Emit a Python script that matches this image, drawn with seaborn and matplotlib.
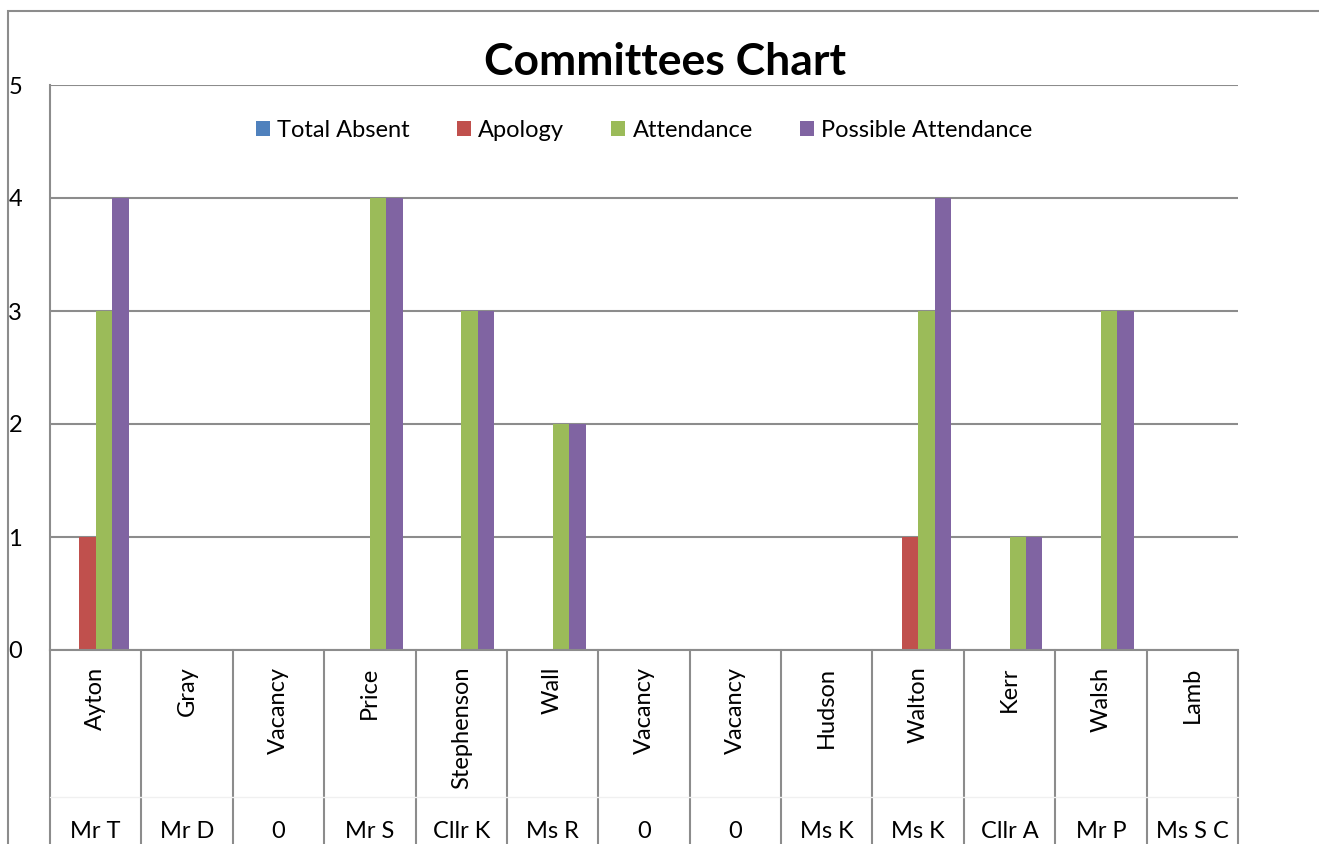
import matplotlib
matplotlib.use("Agg")
import matplotlib.pyplot as plt
import matplotlib.transforms as mtransforms
from matplotlib.patches import Rectangle
import seaborn as sns
import pandas as pd

# data
surnames = ["Ayton", "Gray", "Vacancy", "Price", "Stephenson", "Wall", "Vacancy",
            "Vacancy", "Hudson", "Walton", "Kerr", "Walsh", "Lamb"]
titles = ["Mr T", "Mr D", "0", "Mr S", "Cllr K", "Ms R", "0", "0", "Ms K", "Ms K",
          "Cllr A", "Mr P", "Ms S C"]
total_absent = [0, 0, 0, 0, 0, 0, 0, 0, 0, 0, 0, 0, 0]
apology = [1, 0, 0, 0, 0, 0, 0, 0, 0, 1, 0, 0, 0]
attendance = [3, 0, 0, 4, 3, 2, 0, 0, 0, 3, 1, 3, 0]
possible = [4, 0, 0, 4, 3, 2, 0, 0, 0, 4, 1, 3, 0]

series = ["Total Absent", "Apology", "Attendance", "Possible Attendance"]
colors = ["#4F81BD", "#C0504D", "#9BBB59", "#8064A2"]

rows = []
for i in range(len(surnames)):
    for s, vals in zip(series, [total_absent, apology, attendance, possible]):
        rows.append({"idx": i, "series": s, "value": vals[i]})
df = pd.DataFrame(rows)

sns.set_style("white")
plt.rcParams["font.family"] = ["Lato", "DejaVu Sans"]
plt.rcParams["text.color"] = "black"
plt.rcParams["xtick.color"] = "black"
plt.rcParams["ytick.color"] = "black"

W, H = 1319, 844
fig = plt.figure(figsize=(W / 100, H / 100), dpi=100)
ax = fig.add_axes([50 / W, 1 - 650 / H, (1238 - 50) / W, (650 - 85) / H])

sns.barplot(data=df, x="idx", y="value", hue="series", hue_order=series,
            palette=colors, width=0.72, saturation=1, edgecolor="none",
            linewidth=0, ax=ax)

fs = 17
ax.set_ylim(0, 5)
ax.set_xlim(-0.5, len(surnames) - 0.5)
ax.set_yticks(range(6))
ax.set_yticklabels([str(v) for v in range(6)], fontsize=fs)
ax.tick_params(axis="y", length=0, pad=20)
ax.set_xticks(range(len(surnames)))
ax.set_xticklabels(surnames, rotation=90, va="top", fontsize=fs)
ax.tick_params(axis="x", length=0, pad=12)
ax.set_xlabel("")
ax.set_ylabel("")

grid_c = "#8c8c8c"
ax.yaxis.grid(True, color=grid_c, linewidth=1.5)
ax.set_axisbelow(True)
for side in ["top", "right"]:
    ax.spines[side].set_visible(False)
for side in ["left", "bottom"]:
    ax.spines[side].set_color(grid_c)
    ax.spines[side].set_linewidth(1.5)

# category separators and second level labels
trans = mtransforms.blended_transform_factory(ax.transData, ax.transAxes)
low = -(H - 650 + 10) / (650 - 85)
for b in range(len(surnames) + 1):
    ax.plot([b - 0.5, b - 0.5], [0, low], transform=trans, color=grid_c,
            linewidth=1.5, clip_on=False)
ax.plot([-0.5, len(surnames) - 0.5], [-(797 - 650) / 565] * 2, transform=trans,
        color="#f0f0f0", linewidth=1, clip_on=False)
for i, t in enumerate(titles):
    ax.text(i, -(832 - 650) / 565, t, transform=trans, ha="center", va="center",
            fontsize=fs)

# legend
leg = ax.legend(loc="center", bbox_to_anchor=(0.5, (650 - 130) / 565), ncol=4,
                frameon=False, fontsize=fs, handlelength=0.6, handleheight=0.6,
                handletextpad=0.3, columnspacing=2.0)

fig.text(665 / W, 1 - 62 / H, "Committees Chart", ha="center", va="center",
         fontsize=32, fontweight="bold")

# outer chart border
fig.patches.append(Rectangle((8 / W, -0.1), 1.2, 1 - 11 / H + 0.1,
                             transform=fig.transFigure, fill=False,
                             edgecolor=grid_c, linewidth=1.5))

fig.savefig("out.png", dpi=100)
